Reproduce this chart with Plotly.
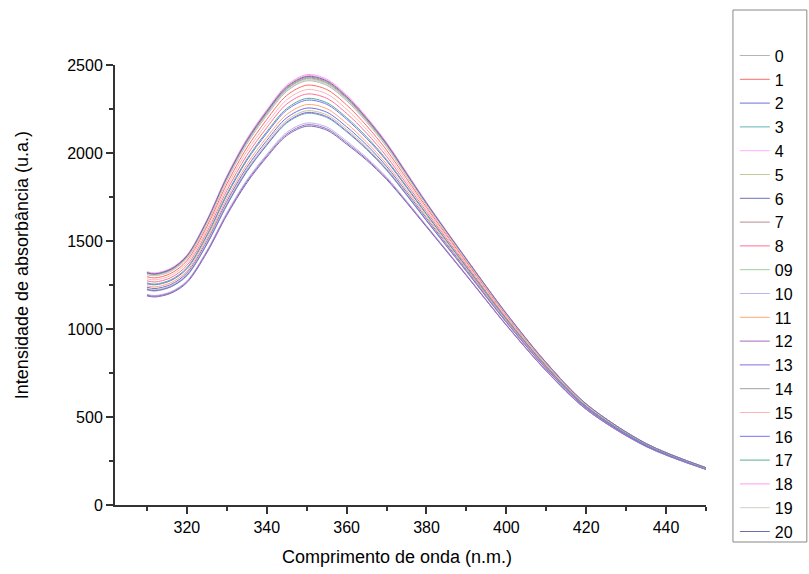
import plotly.graph_objects as go

wavelength = [310, 312, 316, 320, 325, 330, 335, 340, 345, 350, 355, 360, 365, 370, 375, 380, 390, 400, 410, 420, 435, 450]

labels = ["0", "1", "2", "3", "4", "5", "6", "7", "8", "09", "10",
          "11", "12", "13", "14", "15", "16", "17", "18", "19", "20"]

s00 = [1309, 1302, 1328, 1401, 1598, 1843, 2050, 2213, 2351, 2410, 2385, 2297, 2176, 2035, 1869, 1703, 1388, 1082, 804, 571, 348, 211]
s01 = [1297, 1290, 1316, 1388, 1582, 1824, 2029, 2190, 2327, 2385, 2361, 2273, 2155, 2017, 1855, 1691, 1380, 1076, 800, 569, 346, 210]
s02 = [1237, 1230, 1253, 1319, 1499, 1725, 1918, 2071, 2200, 2255, 2232, 2149, 2046, 1924, 1778, 1629, 1337, 1045, 779, 554, 339, 205]
s03 = [1222, 1216, 1239, 1302, 1480, 1702, 1893, 2043, 2170, 2225, 2202, 2120, 2020, 1902, 1761, 1615, 1327, 1038, 774, 551, 337, 204]
s04 = [1323, 1316, 1343, 1417, 1617, 1866, 2076, 2240, 2380, 2440, 2415, 2325, 2201, 2056, 1887, 1718, 1398, 1089, 809, 574, 350, 212]
s05 = [1230, 1223, 1246, 1311, 1490, 1713, 1906, 2057, 2185, 2240, 2217, 2135, 2033, 1913, 1770, 1622, 1332, 1042, 776, 553, 338, 205]
s06 = [1188, 1182, 1203, 1263, 1433, 1646, 1830, 1976, 2099, 2152, 2130, 2050, 1959, 1850, 1718, 1580, 1303, 1021, 761, 543, 332, 202]
s07 = [1318, 1311, 1338, 1412, 1611, 1859, 2067, 2231, 2370, 2430, 2405, 2316, 2192, 2049, 1881, 1713, 1395, 1086, 808, 573, 349, 212]
s08 = [1274, 1267, 1292, 1361, 1550, 1786, 1986, 2144, 2278, 2335, 2311, 2225, 2113, 1981, 1825, 1667, 1364, 1064, 792, 563, 343, 208]
s09 = [1313, 1306, 1333, 1407, 1604, 1851, 2059, 2222, 2361, 2420, 2395, 2306, 2184, 2042, 1875, 1708, 1392, 1084, 806, 572, 349, 211]
s10 = [1197, 1190, 1212, 1273, 1445, 1660, 1846, 1992, 2117, 2170, 2148, 2068, 1974, 1863, 1728, 1588, 1309, 1025, 764, 545, 333, 202]
s11 = [1246, 1239, 1263, 1329, 1512, 1740, 1935, 2089, 2219, 2275, 2252, 2168, 2062, 1938, 1790, 1639, 1344, 1050, 782, 557, 340, 206]
s12 = [1192, 1186, 1207, 1268, 1439, 1652, 1838, 1983, 2107, 2160, 2138, 2058, 1966, 1856, 1722, 1584, 1305, 1023, 763, 544, 333, 202]
s13 = [1225, 1218, 1241, 1305, 1483, 1705, 1897, 2047, 2175, 2230, 2207, 2125, 2024, 1906, 1764, 1617, 1329, 1039, 774, 552, 337, 205]
s14 = [1316, 1309, 1335, 1409, 1607, 1855, 2063, 2227, 2365, 2425, 2400, 2311, 2188, 2046, 1878, 1710, 1393, 1085, 807, 573, 349, 211]
s15 = [1285, 1279, 1304, 1375, 1566, 1805, 2008, 2167, 2302, 2360, 2336, 2249, 2134, 1999, 1840, 1679, 1372, 1070, 796, 566, 345, 209]
s16 = [1257, 1251, 1275, 1342, 1528, 1759, 1957, 2112, 2244, 2300, 2277, 2192, 2083, 1956, 1805, 1651, 1352, 1056, 786, 559, 341, 207]
s17 = [1262, 1255, 1280, 1348, 1534, 1767, 1965, 2121, 2253, 2310, 2286, 2201, 2092, 1963, 1811, 1655, 1355, 1058, 788, 560, 342, 207]
s18 = [1325, 1318, 1345, 1420, 1620, 1870, 2080, 2245, 2385, 2445, 2420, 2330, 2205, 2060, 1890, 1720, 1400, 1090, 810, 575, 350, 212]
s19 = [1311, 1304, 1330, 1404, 1601, 1847, 2054, 2217, 2356, 2415, 2390, 2301, 2180, 2039, 1872, 1706, 1390, 1083, 805, 572, 348, 211]
s20 = [1320, 1313, 1340, 1415, 1614, 1862, 2071, 2236, 2375, 2435, 2410, 2320, 2197, 2053, 1884, 1715, 1397, 1088, 808, 574, 349, 212]

series = [s00, s01, s02, s03, s04, s05, s06, s07, s08, s09, s10,
          s11, s12, s13, s14, s15, s16, s17, s18, s19, s20]

colors = ["#b4b4b4", "#ff6a6a", "#6f6fe0", "#62b4b4", "#ffb0ff", "#c6c69c",
          "#7070b8", "#b88e8e", "#ff7098", "#a0cca0", "#b8b8ee", "#ffa874",
          "#a868bc", "#9068e0", "#a0a0a0", "#ffb4b4", "#7474f4", "#5ea896",
          "#ff9cf0", "#d0d0c4", "#6e6eaa"]

FONT = "Liberation Sans, Arial, sans-serif"

fig = go.Figure()
for lab, ys, col in zip(labels, series, colors):
    fig.add_trace(go.Scatter(
        x=wavelength, y=ys, mode="lines", name=lab,
        line=dict(color=col, width=1, shape="spline", smoothing=0.9),
    ))

fig.update_layout(
    width=809, height=574,
    margin=dict(l=115, r=102, t=65, b=69),
    paper_bgcolor="white", plot_bgcolor="white",
    font=dict(family=FONT, size=16, color="black"),
    showlegend=True,
    legend=dict(
        x=1.047, xanchor="left", y=1.06, yanchor="top",
        bgcolor="rgba(0,0,0,0)", borderwidth=0,
        font=dict(family=FONT, size=16, color="black"),
        itemwidth=30, tracegroupgap=0, maxheight=600,
    ),
    xaxis=dict(
        range=[302, 450], tick0=320, dtick=20, showgrid=False, zeroline=False,
        showline=True, linecolor="#333333", linewidth=2,
        ticks="outside", ticklen=7, tickwidth=1.5, tickcolor="#333333",
        tickfont=dict(family=FONT, size=16, color="black"),
        minor=dict(dtick=10, tick0=310, ticks="outside", ticklen=4, tickwidth=1.5, tickcolor="#333333"),
    ),
    yaxis=dict(
        range=[0, 2500], tick0=0, dtick=500, showgrid=False, zeroline=False,
        showline=True, linecolor="#333333", linewidth=2,
        ticks="outside", ticklen=7, tickwidth=1.5, tickcolor="#333333",
        tickfont=dict(family=FONT, size=16, color="black"),
        minor=dict(dtick=250, ticks="outside", ticklen=4, tickwidth=1.5, tickcolor="#333333"),
    ),
    shapes=[dict(type="rect", xref="paper", yref="paper",
                 x0=(734 - 115) / 592, x1=(808 - 115) / 592,
                 y0=(505 - 542) / 440, y1=(505 - 10) / 440,
                 line=dict(color="#888888", width=1), fillcolor="rgba(0,0,0,0)")],
    annotations=[
        dict(text="Comprimento de onda (n.m.)", xref="paper", yref="paper",
             x=(397 - 115) / 592, y=(505 - 557) / 440, xanchor="center", yanchor="middle",
             showarrow=False, font=dict(family=FONT, size=18, color="black")),
        dict(text="Intensidade de absorbância (u.a.)", xref="paper", yref="paper",
             x=(22 - 115) / 592, y=(505 - 265) / 440, xanchor="center", yanchor="middle",
             textangle=-90, showarrow=False, font=dict(family=FONT, size=18, color="black")),
    ],
)

fig.write_html("out.html")
